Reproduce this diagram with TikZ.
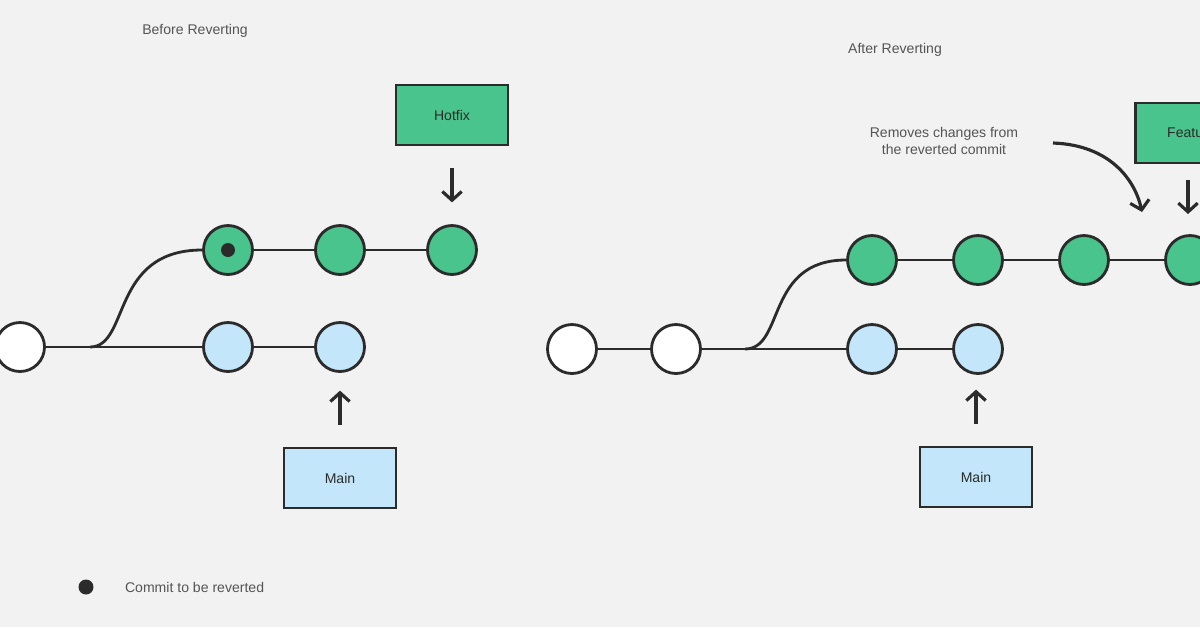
\documentclass[tikz,border=0pt]{standalone}
\usepackage{fontspec}
\setmainfont{Liberation Sans}
\usetikzlibrary{positioning}
\usetikzlibrary{arrows.meta}
\definecolor{bg}{HTML}{F2F2F2}
\definecolor{ink}{HTML}{2B2B2B}
\definecolor{grn}{HTML}{48C48C}
\definecolor{blu}{HTML}{C4E6FA}
\begin{document}
\begin{tikzpicture}[x=0.02cm,y=-0.02cm,
	commit/.style={circle, draw=ink, line width=1.6pt, minimum size=0.98cm, inner sep=0pt},
	new/.style={commit, fill=grn},
	old/.style={commit, fill=blu},
	base/.style={commit, fill=white},
	branch/.style={rectangle, draw=ink, line width=1.6pt, minimum width=2.24cm, minimum height=1.2cm, font=\footnotesize, text=ink},
	edge/.style={draw=ink, line width=1.6pt},
	ptr/.style={draw=ink, line width=1.8pt, -{Straight Barb[length=5pt,width=11pt]}},
	caption/.style={font=\footnotesize, text=ink!80}]
	\fill[bg] (0,0) rectangle (1200,627);
	\clip (0,0) rectangle (1200,627);
	\useasboundingbox (0,0) rectangle (1200,627);

	% before reverting
	\node [caption] (t1) at (195,31) {Before Reverting};
	\node [base] (b0) at (20,347) {};
	\node [old] (b1) at (228,347) {};
	\node [old] (b2) at (340,347) {};
	\node [new] (h1) at (228,250) {};
	\node [new] (h2) at (340,250) {};
	\node [new] (h3) at (452,250) {};
	\node [circle, fill=ink, minimum size=0.28cm, inner sep=0pt] (dot) at (h1) {};
	\coordinate (fork1) at (90,347);
	\draw [edge] (b0) -- (b1) -- (b2);
	\draw [edge] (fork1) .. controls (130,347) and (110,250) .. (h1);
	\draw [edge] (h1) -- (h2) -- (h3);
	\node [branch, fill=grn] (hotfix) at (452,115) {Hotfix};
	\node [branch, fill=blu] (main1) at (340,478) {Main};
	\draw [ptr] (hotfix.south) ++(0,22) -- ++(0,34);
	\draw [ptr] (main1.north) ++(0,-22) -- ++(0,-34);

	% after reverting
	\node [caption] (t2) at (895,50) {After Reverting};
	\node [base] (a0) at (572,349) {};
	\node [base] (a1) at (676,349) {};
	\node [old] (a2) at (872,349) {};
	\node [old] (a3) at (978,349) {};
	\node [new] (f1) at (872,260) {};
	\node [new] (f2) at (978,260) {};
	\node [new] (f3) at (1084,260) {};
	\node [new] (f4) at (1190,260) {};
	\coordinate (fork2) at (745,349);
	\draw [edge] (a0) -- (a1) -- (a2) -- (a3);
	\draw [edge] (fork2) .. controls (785,349) and (765,260) .. (f1);
	\draw [edge] (f1) -- (f2) -- (f3) -- (f4);
	\node [branch, fill=grn, anchor=west] (feature) at (1134,133) {Feature};
	\node [branch, fill=blu] (main2) at (976,477) {Main};
	\draw [ptr] (1188,180) -- (1188,214);
	\draw [ptr] (main2.north) ++(0,-22) -- ++(0,-34);
	\node [caption, align=center] (note) at (944,141) {Removes changes from\\the reverted commit};
	\coordinate (tip) at (1142,212);
	\draw [ptr] (1053,143) .. controls (1110,145) and (1135,180) .. (tip);

	% legend
	\node [circle, fill=ink, minimum size=0.3cm, inner sep=0pt] (key) at (86,587) {};
	\node [caption, right=0.5cm of key] (keytext) {Commit to be reverted};
\end{tikzpicture}
\end{document}
